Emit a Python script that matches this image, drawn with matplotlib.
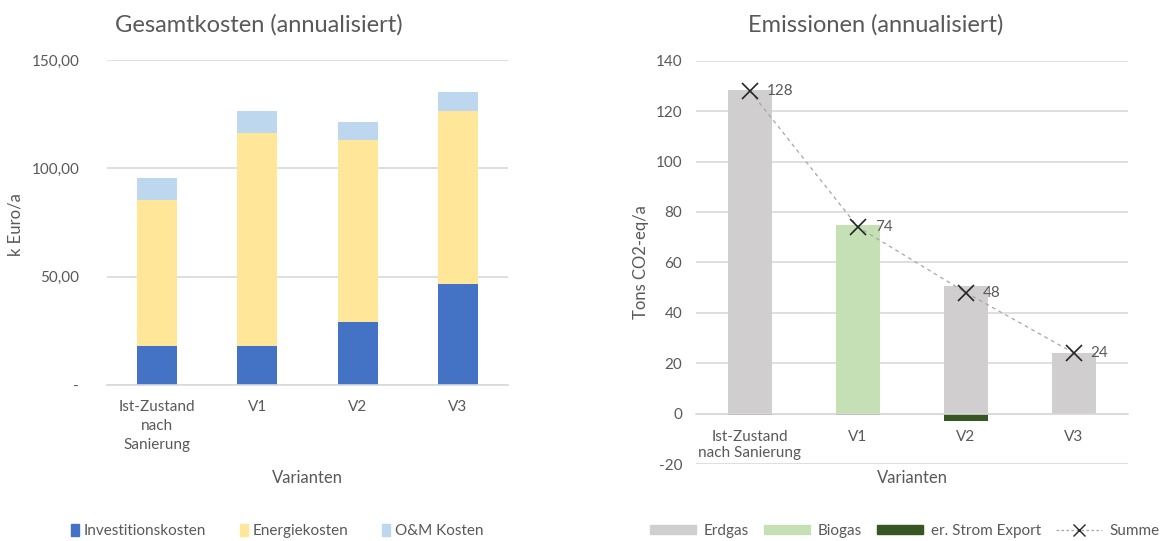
import matplotlib
matplotlib.use('Agg')
import matplotlib.pyplot as plt
from matplotlib.patches import Patch
from matplotlib.lines import Line2D
import numpy as np

plt.rcParams['font.family'] = ['Lato', 'DejaVu Sans']
plt.rcParams['axes.unicode_minus'] = False

TXT = '#595959'
GRID = '#D9D9D9'

# cost chart (k Euro/a)
kosten_kat = ['Ist-Zustand\nnach\nSanierung', 'V1', 'V2', 'V3']
investition = [18.0, 18.0, 29.0, 46.7]
energie = [67.2, 98.2, 83.9, 79.9]
om_kosten = [10.2, 10.1, 8.6, 8.8]

# emission chart (t CO2-eq/a)
emis_kat = ['Ist-Zustand\nnach Sanierung', 'V1', 'V2', 'V3']
erdgas = [128.5, 0.0, 50.8, 23.9]
biogas = [0.0, 74.9, 0.0, 0.0]
strom_export = [-0.5, -0.6, -3.0, 0.0]
summe = [128, 74, 48, 24]


def style_axes(ax):
    for s in ['top', 'right', 'left']:
        ax.spines[s].set_visible(False)
    ax.spines['bottom'].set_color(GRID)
    ax.spines['bottom'].set_linewidth(1.2)
    ax.grid(axis='y', color=GRID, linewidth=1.2)
    ax.set_axisbelow(True)
    ax.tick_params(length=0, colors=TXT, labelsize=11)


fig = plt.figure(figsize=(11.65, 5.41), dpi=100)

# ---- left: Gesamtkosten
ax1 = fig.add_axes([0.0918, 0.2884, 0.3442, 0.6007])
x = np.arange(len(kosten_kat))
w = 0.4
inv = np.array(investition)
ene = np.array(energie)
om = np.array(om_kosten)
ax1.bar(x, inv, w, color='#4472C4', label='Investitionskosten')
ax1.bar(x, ene, w, bottom=inv, color='#FFE699', label='Energiekosten')
ax1.bar(x, om, w, bottom=inv + ene, color='#BDD7EE', label='O&M Kosten')
ax1.set_xlim(-0.5, 3.5)
ax1.set_ylim(0, 150)
ax1.set_yticks([0, 50, 100, 150])
ax1.set_yticklabels(['-', '50,00', '100,00', '150,00'])
ax1.set_xticks(x)
ax1.set_xticklabels(kosten_kat, linespacing=1.45)
style_axes(ax1)
ax1.tick_params(axis='y', pad=20)
ax1.tick_params(axis='x', pad=11)
ax1.set_ylabel('k Euro/a', color=TXT, fontsize=12)
ax1.yaxis.set_label_coords(-0.207, 0.495)
ax1.set_xlabel('Varianten', color=TXT, fontsize=12)
ax1.xaxis.set_label_coords(0.499, -0.262)

h1 = [Patch(color='#4472C4'), Patch(color='#FFE699'), Patch(color='#BDD7EE')]
fig.legend(h1, ['Investitionskosten', 'Energiekosten', 'O&M Kosten'],
           loc='center', bbox_to_anchor=(277 / 1165, 0.0185), ncol=3, frameon=False,
           fontsize=11, handlelength=0.55, handleheight=0.9, handletextpad=0.3,
           columnspacing=2.2, labelcolor=TXT)

# ---- right: Emissionen
ax2 = fig.add_axes([0.5974, 0.1423, 0.3708, 0.7455])
x2 = np.arange(len(emis_kat))
ax2.bar(x2, erdgas, w, color='#D0CECE', label='Erdgas')
ax2.bar(x2, biogas, w, color='#C5E0B4', label='Biogas')
ax2.bar(x2, strom_export, w, color='#375623', label='er. Strom Export')
ax2.plot(x2, summe, linestyle=(0, (3, 3)), color='#A6A6A6', linewidth=0.9,
         marker='x', markersize=12, markeredgecolor='#262626', markeredgewidth=1.2)
for xi, v in zip(x2, summe):
    ax2.annotate(f'{v}', (xi, v), xytext=(12, 0), textcoords='offset points',
                 va='center', ha='left', fontsize=11, color=TXT)
ax2.set_xlim(-0.5, 3.5)
ax2.set_ylim(-20, 140)
ax2.set_yticks(np.arange(-20, 141, 20))
ax2.set_xticks(x2)
ax2.set_xticklabels(emis_kat, linespacing=1.45)
style_axes(ax2)
ax2.spines['bottom'].set_position(('data', 0))
ax2.tick_params(axis='y', pad=10)
ax2.tick_params(axis='x', pad=12)
ax2.set_ylabel('Tons CO2-eq/a', color=TXT, fontsize=12)
ax2.yaxis.set_label_coords(-0.109, 0.50)
ax2.set_xlabel('Varianten', color=TXT, fontsize=12)
ax2.xaxis.set_label_coords(0.5, -0.015)

h2 = [Patch(color='#D0CECE'), Patch(color='#C5E0B4'), Patch(color='#375623'),
      Line2D([], [], linestyle=(0, (2, 2)), color='#A6A6A6', linewidth=0.9,
             marker='x', markersize=9, markeredgecolor='#262626')]
fig.legend(h2, ['Erdgas', 'Biogas', 'er. Strom Export', 'Summe'],
           loc='center', bbox_to_anchor=(905 / 1165, 0.0185), ncol=4, frameon=False,
           fontsize=11, handlelength=3.0, handleheight=0.6, handletextpad=0.5,
           columnspacing=1.0, labelcolor=TXT)

fig.text(259 / 1165, 0.955, 'Gesamtkosten (annualisiert)', ha='center', va='center',
         fontsize=17, color=TXT)
fig.text(876 / 1165, 0.955, 'Emissionen (annualisiert)', ha='center', va='center',
         fontsize=17, color=TXT)

fig.savefig('out.png', dpi=100)
